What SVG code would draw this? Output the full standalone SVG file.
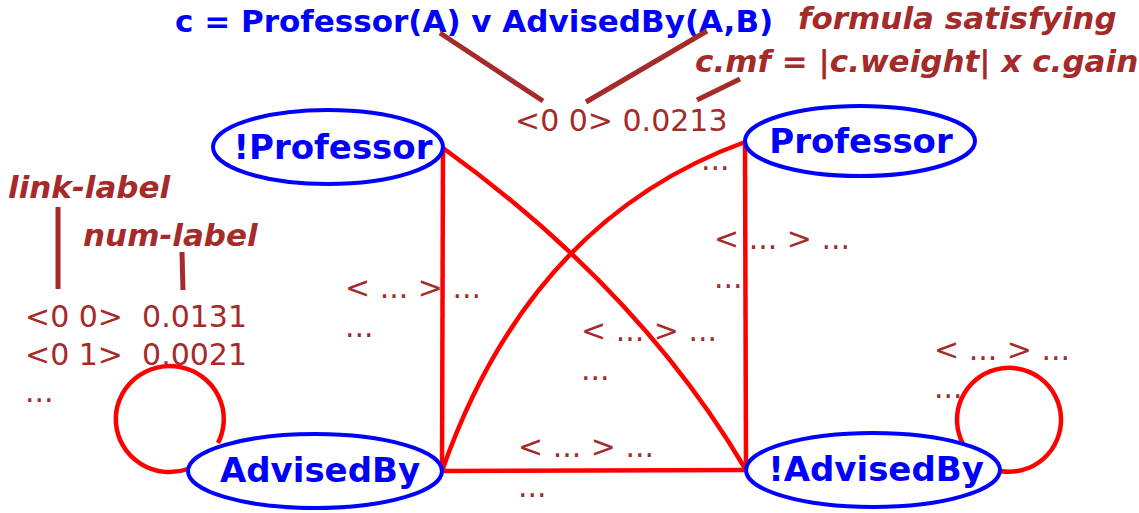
<svg xmlns="http://www.w3.org/2000/svg" width="1139" height="513" viewBox="0 0 1139 513">
<style>
.node{fill:none;stroke:#0000ff;stroke-width:4}
.nl{font-family:"DejaVu Sans",sans-serif;font-weight:bold;font-size:34px;fill:#0000ff}
.edge{fill:none;stroke:#ff0000;stroke-width:4.5}
.ann{stroke:#a52a2a;stroke-width:5;fill:none}
.lbl{font-family:"DejaVu Sans",sans-serif;font-size:30px;fill:#a52a2a}
.it{font-family:"DejaVu Sans",sans-serif;font-size:31px;font-weight:bold;font-style:italic;fill:#a52a2a}
.title{font-family:"DejaVu Sans",sans-serif;font-size:31px;font-weight:bold;fill:#0000ff}
</style>
<g id="connectors">
<path class="edge" d="M443,148 L442,471"/>
<path class="edge" d="M443,148 Q640,290 746,470"/>
<path class="edge" d="M745,142 Q530,220 442,471"/>
<path class="edge" d="M745,142 L746,470"/>
<path class="edge" d="M442,471 L746,470"/>
<path class="edge" d="M188,469 A54,53 0 1 1 218,443"/>
<path class="edge" d="M963,444 A52,52 0 1 1 1000,471"/>
</g>
<g id="annotations">
<text class="title" x="175" y="32">c = Professor(A) v AdvisedBy(A,B)</text>
<text class="it" x="798" y="29">formula satisfying</text>
<text class="it" x="695" y="72">c.mf = |c.weight| x c.gain</text>
<text class="it" x="8" y="198">link-label</text>
<text class="it" x="83" y="246">num-label</text>
<path class="ann" d="M440,33 L543,101"/>
<path class="ann" d="M707,31 L586,102"/>
<path class="ann" d="M740,79 L697,100"/>
<path class="ann" d="M58,207 L58,289"/>
<path class="ann" d="M182,252 L183,290"/>
</g>
<g id="labels">
<text class="lbl" x="515" y="131">&lt;0 0&gt; 0.0213</text>
<text class="lbl" x="701" y="170">...</text>
<text class="lbl" x="25" y="327" xml:space="preserve">&lt;0 0&gt;  0.0131</text>
<text class="lbl" x="25" y="365" xml:space="preserve">&lt;0 1&gt;  0.0021</text>
<text class="lbl" x="25" y="402">...</text>
<text class="lbl" x="345" y="298">&lt; ... &gt; ...</text>
<text class="lbl" x="345" y="337">...</text>
<text class="lbl" x="714" y="249">&lt; ... &gt; ...</text>
<text class="lbl" x="714" y="288">...</text>
<text class="lbl" x="581" y="341">&lt; ... &gt; ...</text>
<text class="lbl" x="581" y="380">...</text>
<text class="lbl" x="518" y="457">&lt; ... &gt; ...</text>
<text class="lbl" x="518" y="497">...</text>
<text class="lbl" x="934" y="360">&lt; ... &gt; ...</text>
<text class="lbl" x="934" y="398">...</text>
</g>
<g id="notProfessor">
<ellipse class="node" cx="328" cy="147" rx="115" ry="37"/>
<text class="nl" x="333" y="159" text-anchor="middle">!Professor</text>
</g>
<g id="Professor">
<ellipse class="node" cx="860" cy="141" rx="115" ry="35"/>
<text class="nl" x="861" y="153" text-anchor="middle">Professor</text>
</g>
<g id="AdvisedBy">
<ellipse class="node" cx="315" cy="471" rx="127" ry="37"/>
<text class="nl" x="320" y="482" text-anchor="middle">AdvisedBy</text>
</g>
<g id="notAdvisedBy">
<ellipse class="node" cx="873" cy="470" rx="127" ry="37"/>
<text class="nl" x="876" y="481" text-anchor="middle">!AdvisedBy</text>
</g>
</svg>
